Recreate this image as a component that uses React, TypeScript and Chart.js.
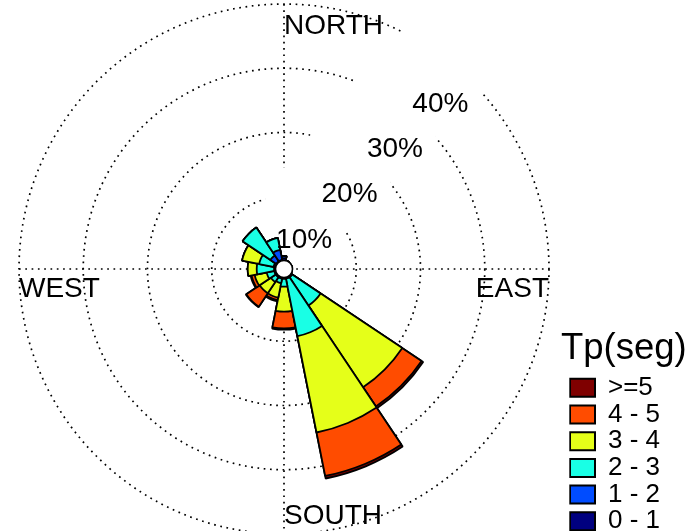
import React, { useEffect, useRef } from "react";
import { Chart, registerables } from "chart.js";

Chart.register(...registerables);

// Wave direction sectors (16 points, clockwise from north)
const directions = ["N", "NNE", "NE", "ENE", "E", "ESE", "SE", "SSE", "S", "SSW", "SW", "WSW", "W", "WNW", "NW", "NNW"];

// Percentage of observations in each Tp class, per direction
const tp0to1 = [0.4, 0.1, 0, 0, 0, 0, 0.1, 0.1, 0.1, 0.1, 0.1, 0.1, 0.1, 0.1, 0.2, 0.2];
const tp1to2 = [0.3, 0, 0, 0, 0, 0, 0.2, 0.2, 0.2, 0.2, 0.2, 0.2, 0.2, 0.3, 1.1, 1.6];
const tp2to3 = [0.1, 0, 0, 0, 0, 0, 5.3, 9.1, 1.2, 0.7, 0.9, 1.2, 2.7, 2.3, 5.2, 1.9];
const tp3to4 = [0, 0, 0, 0, 0, 0, 15.3, 15.3, 3.9, 2.3, 2.1, 1.9, 1.4, 2.7, 0, 0];
const tp4to5 = [0, 0, 0, 0, 0, 0, 3.6, 6.9, 2.6, 0.4, 2.5, 0.5, 0, 0, 0, 0];
const tp5plus = [0, 0, 0, 0, 0, 0, 0.3, 0.4, 0.2, 0.2, 0.1, 0.15, 0, 0, 0, 0];

const bandLabels = ["0 - 1", "1 - 2", "2 - 3", "3 - 4", "4 - 5", ">=5"];
const bandColors = ["#00007F", "#004CFF", "#19FFE5", "#E5FF19", "#FF4C00", "#7F0000"];

// Radial axis
const percentTicks = [10, 20, 30, 40];
const axisMin = -1.25;
const axisMax = 40;
const compassLabels = ["NORTH", "EAST", "SOUTH", "WEST"];
const legendTitle = "Tp(seg)";

const bands = [tp0to1, tp1to2, tp2to3, tp3to4, tp4to5, tp5plus];

const FONT = "'Liberation Sans', Arial, sans-serif";

const roseDecor = {
  id: "roseDecor",
  beforeDatasetsDraw(chart: any) {
    const s = chart.scales.r;
    const cx = s.xCenter;
    const cy = s.yCenter;
    const R = s.drawingArea;
    const ctx = chart.ctx;
    ctx.save();
    ctx.strokeStyle = "#000";
    ctx.lineWidth = 1.7;
    ctx.setLineDash([1.7, 4.6]);
    ctx.beginPath();
    ctx.moveTo(cx, cy - R);
    ctx.lineTo(cx, cy + R);
    ctx.moveTo(cx - R, cy);
    ctx.lineTo(cx + R, cy);
    ctx.stroke();
    ctx.setLineDash([]);
    ctx.fillStyle = "#fff";
    for (const v of percentTicks) {
      const d = s.getDistanceFromCenterForValue(v);
      const px = cx + d * Math.SQRT1_2;
      const py = cy - d * Math.SQRT1_2;
      ctx.fillRect(px - 70, py - 50, 80, 84);
    }
    ctx.restore();
  },
  afterDatasetsDraw(chart: any) {
    const s = chart.scales.r;
    const cx = s.xCenter;
    const cy = s.yCenter;
    const R = s.drawingArea;
    const ctx = chart.ctx;
    ctx.save();
    // hollow centre
    const r0 = s.getDistanceFromCenterForValue(0) + 0.5;
    ctx.beginPath();
    ctx.arc(cx, cy, r0, 0, Math.PI * 2);
    ctx.fillStyle = "#fff";
    ctx.fill();
    ctx.lineWidth = 1.6;
    ctx.strokeStyle = "#000";
    ctx.stroke();

    ctx.fillStyle = "#000";
    ctx.font = `28px ${FONT}`;
    ctx.textBaseline = "alphabetic";
    // percentage labels
    ctx.textAlign = "right";
    for (const v of percentTicks) {
      const d = s.getDistanceFromCenterForValue(v);
      const px = cx + d * Math.SQRT1_2;
      const py = cy - d * Math.SQRT1_2;
      ctx.fillText(`${v}%`, px - 3, py + 30);
    }
    // compass labels
    ctx.textAlign = "left";
    ctx.fillText(compassLabels[0], cx, cy - R + 29.5);
    ctx.fillText(compassLabels[2], cx, cy + R - 10);
    ctx.fillText(compassLabels[3], cx - R, cy + 27.5);
    ctx.textAlign = "right";
    ctx.fillText(compassLabels[1], cx + R, cy + 27.5);
    ctx.restore();
  },
  afterDraw(chart: any) {
    const lg = chart.legend;
    if (!lg) return;
    const hb = lg.legendHitBoxes && lg.legendHitBoxes[0];
    const top = hb ? hb.top : 375;
    const left = hb ? hb.left : 570;
    const ctx = chart.ctx;
    ctx.save();
    ctx.fillStyle = "#000";
    ctx.font = `36.5px ${FONT}`;
    ctx.textAlign = "left";
    ctx.textBaseline = "alphabetic";
    ctx.fillText(legendTitle, left - 9, top - 15.5);
    ctx.restore();
  },
};

export default function App() {
  const canvasRef = useRef<HTMLCanvasElement | null>(null);

  useEffect(() => {
    if (!canvasRef.current) return;
    const cumulative = bands.map((_, i) =>
      directions.map((__, d) => bands.slice(0, i + 1).reduce((sum, b) => sum + b[d], 0))
    );
    const datasets = bands.map((_, i) => ({
      label: bandLabels[i],
      data: cumulative[i],
      backgroundColor: bandColors[i],
      borderColor: "#000",
      borderWidth: 1.8,
    }));

    const chart = new Chart(canvasRef.current, {
      type: "polarArea",
      data: { labels: directions, datasets },
      options: {
        responsive: false,
        animation: false,
        devicePixelRatio: 1,
        events: [],
        layout: { padding: { left: -2, top: 4, right: 27.7, bottom: 0 } },
        scales: {
          r: {
            min: axisMin,
            max: axisMax,
            startAngle: -11.25,
            afterBuildTicks: (scale: any) => {
              scale.ticks = [0, ...percentTicks].map((v) => ({ value: v }));
            },
            ticks: { display: false },
            pointLabels: { display: false },
            angleLines: { display: false },
            grid: { circular: true, color: "#000", lineWidth: 1.7 },
            border: { dash: [1.7, 4.6] },
          },
        },
        plugins: {
          tooltip: { enabled: false },
          legend: {
            position: "right",
            align: "end",
            maxWidth: 100,
            onClick: () => {},
            title: { display: false },
            labels: {
              boxWidth: 25,
              boxHeight: 18,
              padding: 0.7,
              color: "#000",
              font: { family: FONT, size: 26 },
              generateLabels: (c: any) =>
                c.data.datasets
                  .map((ds: any, i: number) => ({
                    text: ds.label,
                    fillStyle: ds.backgroundColor,
                    strokeStyle: "#000",
                    lineWidth: 2,
                    hidden: false,
                    datasetIndex: i,
                    fontColor: "#000",
                  }))
                  .reverse(),
            },
          },
        },
      } as any,
      plugins: [roseDecor],
    });
    return () => chart.destroy();
  }, []);

  return (
    <div style={{ position: "absolute", left: 0, top: 0, width: 697, height: 531, overflow: "hidden", background: "#fff" }}>
      <canvas ref={canvasRef} width={697} height={535} style={{ display: "block", width: 697, height: 535 }} />
    </div>
  );
}
